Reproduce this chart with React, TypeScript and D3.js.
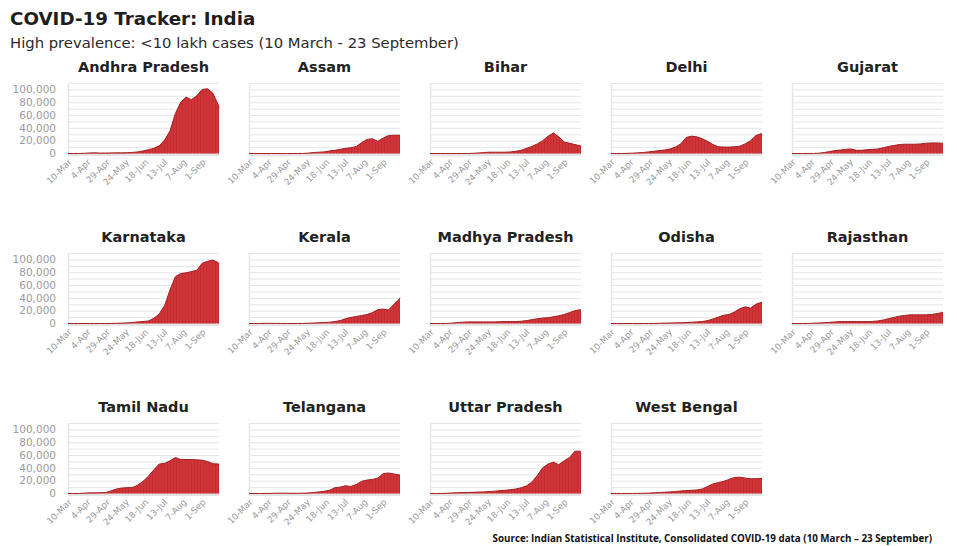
import React from "react";
import * as d3 from "d3";

const sampleDates = [
  "2020-03-10","2020-03-17","2020-03-24","2020-03-31","2020-04-07","2020-04-14","2020-04-21","2020-04-28",
  "2020-05-05","2020-05-12","2020-05-19","2020-05-26","2020-06-02","2020-06-09","2020-06-16","2020-06-23",
  "2020-06-30","2020-07-07","2020-07-14","2020-07-21","2020-07-28","2020-08-04","2020-08-11","2020-08-18",
  "2020-08-25","2020-09-01","2020-09-08","2020-09-15","2020-09-22","2020-09-23",
];

const tickLabels = ["10-Mar","4-Apr","29-Apr","24-May","18-Jun","13-Jul","7-Aug","1-Sep"];
const yTickValues = [0, 20000, 40000, 60000, 80000, 100000];
const gridValues = [0,10000,20000,30000,40000,50000,60000,70000,80000,90000,100000,110000];

const states = [
  "Andhra Pradesh","Assam","Bihar","Delhi","Gujarat",
  "Karnataka","Kerala","Madhya Pradesh","Odisha","Rajasthan",
  "Tamil Nadu","Telangana","Uttar Pradesh","West Bengal",
];

const andhraPradesh = [0,0,50,300,800, 1000,600,700,900,1000, 1000,1200,1700,2500,4000, 6000,8000,12000,21000,35000, 62000,80000,88000,84000,90000, 100000,101000,94000,76000,70000];
const assam = [0,0,0,0,0, 0,0,0,0,0, 100,500,1500,2000,2500, 4000,5000,6500,8000,9000, 11000,17000,22000,23000,19000, 24000,28000,28500,28500,29000];
const bihar = [0,0,0,0,0, 0,0,0,300,800, 1500,2000,2000,2000,2000, 2500,3500,5000,8000,11000, 15000,20000,27000,32000,26000, 18000,16000,14000,12000,12000];
const delhi = [0,0,50,200,500, 1000,1500,2500,3500,4500, 5500,7000,10000,15000,25000, 27000,26000,23000,19000,14000, 10500,10000,10000,10500,11500, 15000,20000,28000,31000,31000];
const gujarat = [0,0,0,50,100, 500,1500,3000,4500,5500, 6500,7000,5000,5000,6000, 6500,7000,9000,11000,12500, 14000,14500,14500,14500,15000, 16000,16500,16500,16000,16000];
const karnataka = [0,0,0,0,0, 0,0,0,100,300, 600,900,1500,2500,3000, 4000,8000,15000,28000,52000, 73000,78000,79000,81000,83000, 94000,97000,99000,95000,93000];
const kerala = [0,10,100,250,250, 150,100,30,20,30, 100,400,700,1200,1500, 2000,3000,4500,7500,9500, 11000,12500,14000,17000,21500, 22500,21000,30000,38000,40000];
const madhyaPradesh = [0,0,0,100,500, 1500,2000,2500,2500,2500, 2500,2500,2500,2800,3000, 3000,3000,3500,4500,6000, 7500,8500,9000,10500,12000, 14000,17000,20000,21500,21500];
const odisha = [0,0,0,0,0, 0,0,0,100,300, 600,800,1000,1200,1500, 2000,2500,3000,4500,7000, 10000,13000,14000,18000,23000, 26000,24000,30000,33000,33000];
const rajasthan = [0,0,0,100,400, 800,1200,1800,2500,3000, 3000,3000,3000,3000,3000, 3200,4000,5500,7500,9500, 11500,12500,13500,13500,13500, 13500,14000,15500,17000,17500];
const tamilNadu = [0,0,50,400,1000, 1000,1200,1500,4000,7000, 8500,9000,9500,13000,19000, 27000,37000,46000,47000,51000, 56000,53000,53000,53000,52500, 52000,50000,46500,46000,46000];
const telangana = [0,0,0,50,200, 400,500,400,300,300, 500,800,1500,2500,3500, 5000,9000,10000,12000,11000, 14000,19000,21000,22000,24000, 31000,32000,30500,29000,29000];
const uttarPradesh = [0,0,50,300,800, 1200,1500,1500,1800,2200, 2500,3000,3500,4500,5000, 6000,7000,9000,12000,18000, 28000,40000,46000,49000,45000, 51000,56000,66000,66000,61000];
const westBengal = [0,0,0,50,100, 150,300,600,1000,1500, 2000,2500,3000,4000,4500, 5000,5500,7000,11000,15000, 17000,19000,22000,25000,25500, 24000,23000,23000,23500,24000];

const seriesList = [
  andhraPradesh, assam, bihar, delhi, gujarat,
  karnataka, kerala, madhyaPradesh, odisha, rajasthan,
  tamilNadu, telangana, uttarPradesh, westBengal,
];

const W = 957;
const H = 546;
const plotW = 151;
const plotH = 70.5;
const colX = [68, 249, 430, 611, 792];
const rowTop = [83, 253, 423];

const parseISO = d3.timeParse("%Y-%m-%d");
const parseTick = d3.timeParse("%d-%b-%Y");
const dates = sampleDates.map((s) => parseISO(s) as Date);

const x = d3.scaleTime().domain([dates[0], dates[dates.length - 1]]).range([0, plotW]);
const y = d3.scaleLinear().domain([0, 110000]).range([plotH, 0]);
const fmt = d3.format(",");

const area = d3
  .area<number>()
  .x((_, i) => x(dates[i]))
  .y0(plotH)
  .y1((d) => y(d))
  .curve(d3.curveLinear);
const line = d3
  .line<number>()
  .x((_, i) => x(dates[i]))
  .y((d) => y(d))
  .curve(d3.curveLinear);

const FONT = "'DejaVu Sans', Verdana, sans-serif";

function Panel({ name, values, col, row }: { name: string; values: number[]; col: number; row: number }) {
  const tx = colX[col];
  const ty = rowTop[row];
  const ticks = tickLabels.map((t) => ({ label: t, date: parseTick(t + "-2020") as Date }));
  return (
    <g transform={`translate(${tx},${ty})`}>
      <text
        x={plotW / 2}
        y={-11}
        textAnchor="middle"
        fontFamily={FONT}
        fontWeight={700}
        fontSize={14.5}
        fill="#222"
      >
        {name}
      </text>
      {gridValues.map((g) => (
        <line key={g} x1={0} x2={plotW} y1={y(g) + 0.5} y2={y(g) + 0.5} stroke="#e6e6e6" strokeWidth={1} />
      ))}
      <line x1={0.5} x2={0.5} y1={0} y2={plotH + 2} stroke="#e6e6e6" strokeWidth={1.5} />
      <line x1={0} x2={plotW} y1={plotH + 1} y2={plotH + 1} stroke="#e4e4e4" strokeWidth={3} />
      <path d={area(values) || ""} fill="#d13438" />
      <path d={area(values) || ""} fill="url(#barPattern)" />
      <path d={line(values) || ""} fill="none" stroke="#a51f22" strokeWidth={1} />
      {col === 0 &&
        yTickValues.map((v) => (
          <text
            key={v}
            x={-12}
            y={y(v)}
            dy="0.35em"
            textAnchor="end"
            fontFamily={FONT}
            fontSize={10.5}
            fill="#9a9a9a"
          >
            {fmt(v)}
          </text>
        ))}
      {ticks.map((t) => (
        <text
          key={t.label}
          transform={`translate(${x(t.date) + 2},${plotH + 7}) rotate(-45)`}
          textAnchor="end"
          fontFamily={FONT}
          fontSize={8.8}
          fill="#9a9a9a"
          dy="0.35em"
        >
          {t.label}
        </text>
      ))}
    </g>
  );
}

export default function App() {
  return (
    <svg
      width={W}
      height={H}
      viewBox={`0 0 ${W} ${H}`}
      style={{ position: "absolute", left: 0, top: 0, display: "block", background: "#fff" }}
    >
      <defs>
        <pattern id="barPattern" patternUnits="userSpaceOnUse" width={3} height={4}>
          <line x1={0.5} x2={0.5} y1={0} y2={4} stroke="#a8232a" strokeWidth={0.7} opacity={0.55} />
        </pattern>
      </defs>
      <rect x={0} y={0} width={W} height={H} fill="#fff" />
      <text x={10} y={25} fontFamily={FONT} fontWeight={700} fontSize={18.3} fill="#1e1e1e">
        COVID-19 Tracker: India
      </text>
      <text x={10} y={48} fontFamily={FONT} fontSize={14.8} fill="#2a2a2a">
        High prevalence: &lt;10 lakh cases (10 March - 23 September)
      </text>
      {states.map((s, i) => (
        <Panel key={s} name={s} values={seriesList[i]} col={i % 5} row={Math.floor(i / 5)} />
      ))}
      <text
        x={932}
        y={542}
        textAnchor="end"
        fontFamily="'Open Sans', 'Liberation Sans', sans-serif"
        fontWeight={700}
        fontSize={9.8}
        fill="#111"
      >
        Source: Indian Statistical Institute, Consolidated COVID-19 data (10 March – 23 September)
      </text>
    </svg>
  );
}
